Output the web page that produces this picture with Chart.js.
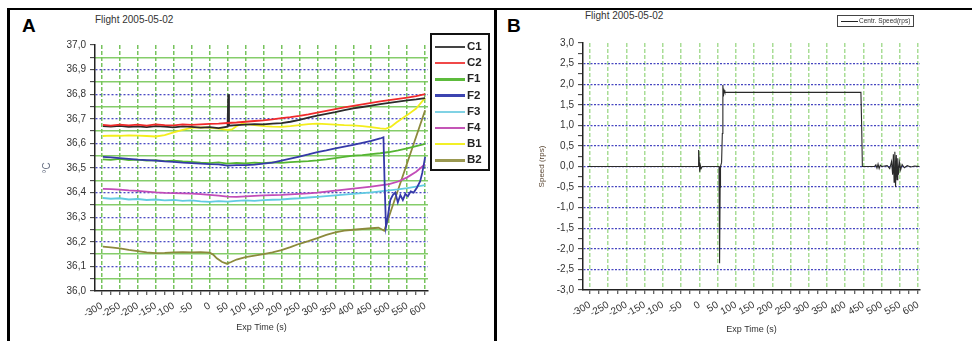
<!DOCTYPE html>
<html>
<head>
<meta charset="utf-8">
<script src="https://cdn.jsdelivr.net/npm/chart.js@4/dist/chart.umd.min.js"></script>
<style>
  body { margin: 0; width: 972px; height: 341px; background: #fff; position: relative; overflow: hidden;
         font-family: "Liberation Sans", Arial, sans-serif; }
  .abs { position: absolute; }
  .panel-letter { font-weight: bold; font-size: 19px; line-height: 19px; color: #000; }
  .flight { font-size: 10px; line-height: 10px; color: #333; white-space: nowrap; }
  #legendA { left: 430px; top: 33px; width: 56px; height: 134px; border: 2px solid #111; }
  #legendA .item { position: absolute; left: 3px; height: 16px; line-height: 16px; white-space: nowrap;
                   font-weight: bold; font-size: 11.5px; color: #222; }
  #legendA .swatch { display: inline-block; width: 30px; height: 2.5px; vertical-align: middle; margin-right: 2px; }
  #legendB { left: 837px; top: 15px; width: 75px; height: 10px; border: 1px solid #444; font-size: 6.5px;
             line-height: 10px; color: #333; white-space: nowrap; }
  #legendB .swatch { display: inline-block; width: 17px; height: 1px; background: #222; vertical-align: middle;
                     margin: 0 1px 0 3px; }
</style>
</head>
<body>
<div class="abs" style="left:7px;top:8px;width:970px;height:340px;border-top:2px solid #000;border-left:3px solid #000;"></div>
<div class="abs" style="left:494px;top:8px;width:3px;height:340px;background:#000;"></div>

<div class="abs panel-letter" style="left:22px;top:16px;">A</div>
<div class="abs flight" style="left:95px;top:15px;">Flight 2005-05-02</div>
<div class="abs panel-letter" style="left:507px;top:16px;">B</div>
<div class="abs flight" style="left:585px;top:11px;">Flight 2005-05-02</div>

<canvas id="chartA" class="abs" width="484" height="331" style="left:10px;top:10px;"></canvas>
<canvas id="chartB" class="abs" width="475" height="331" style="left:497px;top:10px;"></canvas>

<div id="legendA" class="abs"></div>
<div id="legendB" class="abs"><span class="swatch"></span>Centr. Speed(rps)</div>

<script>
// eje x comun (s)
const timeTicks = [-300, -275, -250, -225, -200, -175, -150, -125, -100, -75, -50, -25, 0, 25, 50, 75, 100,
  125, 150, 175, 200, 225, 250, 275, 300, 325, 350, 375, 400, 425, 450, 475, 500, 525, 550, 575, 600];
const tempTicks = [36.0, 36.05, 36.1, 36.15, 36.2, 36.25, 36.3, 36.35, 36.4, 36.45, 36.5,
  36.55, 36.6, 36.65, 36.7, 36.75, 36.8, 36.85, 36.9, 36.95, 37.0];
const speedTicks = [-3.0, -2.75, -2.5, -2.25, -2.0, -1.75, -1.5, -1.25, -1.0, -0.75, -0.5, -0.25, 0,
  0.25, 0.5, 0.75, 1.0, 1.25, 1.5, 1.75, 2.0, 2.25, 2.5, 2.75, 3.0];

const seriesNames = ['C1', 'C2', 'F1', 'F2', 'F3', 'F4', 'B1', 'B2'];
const seriesColors = ['#2b2b2b', '#f02a2a', '#55b532', '#3539a8', '#62cbe2', '#c24cb8', '#f4ee1c', '#8c8a3c'];
const legendColors = ['#444444', '#f04848', '#5dbb3c', '#3c44b0', '#80d2e4', '#c455b6', '#f2f026', '#9a9850'];

// temperaturas (°C)
const c1 = [[-297,36.670],[-275,36.668],[-250,36.671],[-225,36.667],[-200,36.669],[-175,36.666],[-150,36.670],
  [-125,36.668],[-100,36.665],[-75,36.669],[-50,36.667],[-25,36.664],[0,36.666],[25,36.662],[50,36.668],
  [52,36.800],[54,36.672],[75,36.674],[100,36.676],[125,36.678],[150,36.677],[175,36.680],[200,36.682],
  [225,36.688],[250,36.696],[275,36.705],[300,36.713],[325,36.720],[350,36.727],[375,36.735],[400,36.742],
  [425,36.748],[450,36.754],[475,36.760],[500,36.765],[525,36.770],[550,36.775],[575,36.779],[600,36.784]];
const c2 = [[-297,36.675],[-275,36.672],[-250,36.676],[-225,36.673],[-200,36.676],[-175,36.672],[-150,36.677],
  [-125,36.674],[-100,36.673],[-75,36.677],[-50,36.675],[-25,36.677],[0,36.679],[25,36.680],[50,36.683],
  [75,36.685],[100,36.688],[125,36.691],[150,36.694],[175,36.698],[200,36.703],[225,36.707],[250,36.712],
  [275,36.718],[300,36.725],[325,36.732],[350,36.739],[375,36.746],[400,36.753],[425,36.759],[450,36.765],
  [475,36.771],[500,36.776],[525,36.781],[550,36.786],[575,36.792],[600,36.800]];
const f1 = [[-297,36.535],[-275,36.533],[-250,36.537],[-225,36.532],[-200,36.534],[-175,36.530],[-150,36.532],
  [-125,36.528],[-100,36.530],[-75,36.527],[-50,36.525],[-25,36.522],[0,36.520],[25,36.523],[50,36.518],
  [75,36.521],[100,36.519],[125,36.522],[150,36.520],[175,36.523],[200,36.521],[225,36.524],[250,36.526],
  [275,36.528],[300,36.531],[325,36.535],[350,36.540],[375,36.545],[400,36.550],[425,36.552],[450,36.556],
  [475,36.560],[500,36.565],[525,36.572],[550,36.580],[575,36.589],[600,36.598]];
const f2 = [[-297,36.545],[-275,36.543],[-250,36.540],[-225,36.537],[-200,36.534],[-175,36.532],[-150,36.530],
  [-125,36.527],[-100,36.525],[-75,36.522],[-50,36.520],[-25,36.518],[0,36.516],[25,36.515],[50,36.510],
  [75,36.512],[100,36.512],[125,36.514],[150,36.518],[175,36.522],[200,36.530],[225,36.538],[250,36.546],
  [275,36.555],[300,36.565],[325,36.572],[350,36.580],[375,36.587],[400,36.594],[425,36.602],[450,36.610],
  [475,36.620],[484,36.625],[487,36.450],[491,36.260],[496,36.300],[503,36.370],[510,36.390],[517,36.400],
  [524,36.360],[531,36.390],[538,36.370],[545,36.395],[552,36.385],[560,36.405],[568,36.400],[577,36.420],
  [586,36.445],[592,36.480],[597,36.520],[600,36.545]];
const f3 = [[-297,36.378],[-275,36.375],[-250,36.377],[-225,36.372],[-200,36.374],[-175,36.370],[-150,36.372],
  [-125,36.368],[-100,36.370],[-75,36.366],[-50,36.368],[-25,36.364],[0,36.362],[25,36.365],[50,36.363],
  [75,36.366],[100,36.368],[125,36.366],[150,36.369],[175,36.371],[200,36.372],[225,36.375],[250,36.377],
  [275,36.380],[300,36.383],[325,36.386],[350,36.389],[375,36.392],[400,36.395],[425,36.398],[450,36.401],
  [475,36.405],[500,36.409],[525,36.413],[550,36.418],[575,36.424],[600,36.430]];
const f4 = [[-297,36.415],[-275,36.414],[-250,36.412],[-225,36.409],[-200,36.407],[-175,36.404],[-150,36.401],
  [-125,36.399],[-100,36.398],[-75,36.397],[-50,36.396],[-25,36.394],[0,36.391],[25,36.388],[50,36.384],
  [75,36.383],[100,36.385],[125,36.387],[150,36.389],[175,36.390],[200,36.391],[225,36.393],[250,36.395],
  [275,36.397],[300,36.400],[325,36.404],[350,36.408],[375,36.412],[400,36.416],[425,36.420],[450,36.424],
  [475,36.429],[500,36.434],[525,36.445],[550,36.462],[575,36.485],[600,36.515]];
const b1 = [[-297,36.630],[-275,36.632],[-250,36.631],[-225,36.633],[-200,36.632],[-175,36.630],[-150,36.628],
  [-125,36.634],[-100,36.645],[-75,36.655],[-50,36.663],[-25,36.665],[0,36.664],[25,36.660],[50,36.655],
  [62,36.657],[75,36.670],[90,36.680],[100,36.678],[125,36.674],[150,36.670],[175,36.668],[200,36.667],
  [225,36.670],[250,36.674],[275,36.678],[300,36.680],[325,36.678],[350,36.676],[375,36.674],[400,36.673],
  [425,36.670],[450,36.666],[475,36.661],[490,36.659],[505,36.668],[520,36.685],[535,36.700],[550,36.715],
  [575,36.742],[600,36.785]];
const b2 = [[-297,36.180],[-275,36.177],[-250,36.173],[-225,36.167],[-200,36.162],[-175,36.157],[-150,36.154],
  [-125,36.155],[-100,36.157],[-75,36.158],[-50,36.157],[-25,36.158],[0,36.156],[10,36.148],[20,36.133],
  [35,36.118],[48,36.111],[60,36.118],[75,36.128],[100,36.138],[125,36.144],[150,36.150],[175,36.157],
  [200,36.166],[225,36.178],[250,36.192],[275,36.203],[300,36.215],[325,36.228],[350,36.238],[375,36.245],
  [400,36.249],[425,36.252],[450,36.255],[470,36.257],[480,36.250],[486,36.245],[600,36.735]];
const seriesData = [c1, c2, f1, f2, f3, f4, b1, b2];
const drawOrder = [2, 1, 5, 4, 7, 6, 3, 8];

// velocidad de la centrifuga (rps)
const centrSpeed = [[-305,0],[-3,0],[-2,0.4],[0,0.1],[1,-0.13],[3,0.02],[5,-0.05],[8,0],[54,0],[55.5,-2.35],
  [57,-0.5],[58,0],[61,0.1],[63,0.8],[64.5,1.98],[66,1.7],[68,1.85],[70,1.8],[443,1.8],[445,1.0],[447,0],
  [480,0],[484,0.04],[487,-0.04],[490,0.06],[493,-0.05],[496,0.03],[500,0],[515,0.02],[522,-0.05],[527,0.12],
  [530,-0.2],[532,0.3],[534,-0.38],[536,0.36],[538,-0.5],[540,0.28],[542,-0.32],[544,0.2],[546,-0.2],
  [549,0.1],[552,-0.08],[556,0.05],[562,-0.03],[570,0.02],[580,-0.01],[590,0.01],[603,0]];

Chart.defaults.font.family = '"Liberation Sans", Arial, sans-serif';
Chart.defaults.color = '#333';

function isMultiple(v, step) { return Math.abs(v / step - Math.round(v / step)) < 1e-6; }
function comma(v) { return v.toFixed(1).replace('.', ','); }

function timeAxis(min, max, height, gridColor) {
  return {
    type: 'linear', min: min, max: max,
    afterBuildTicks: s => { s.ticks = timeTicks.map(v => ({ value: v })); },
    afterFit: s => { s.height = height; },
    ticks: { autoSkip: false, minRotation: 30, maxRotation: 30, padding: 5, font: { size: 10 },
             callback: v => isMultiple(v, 50) ? String(v) : '' },
    grid: { color: c => isMultiple(c.tick.value, 50) ? gridColor : 'transparent', lineWidth: 1.5,
            tickColor: '#333', tickLength: 4, tickWidth: 1 },
    border: { display: true, color: '#222', width: 1.5, dash: [4, 2] },
    title: { display: true, text: 'Exp Time (s)', font: { size: 9 }, padding: 0 }
  };
}

window.addEventListener('DOMContentLoaded', function() {
  new Chart(document.getElementById('chartA'), {
    type: 'line',
    data: {
      datasets: seriesData.map((d, i) => ({
        label: seriesNames[i], data: d, borderColor: seriesColors[i], borderWidth: 1.8,
        pointRadius: 0, tension: 0, order: drawOrder[i]
      }))
    },
    options: {
      responsive: false, animation: false, devicePixelRatio: 1,
      layout: { padding: { left: 20, right: 66, top: 35, bottom: 8 } },
      plugins: { legend: { display: false }, tooltip: { enabled: false } },
      scales: {
        x: timeAxis(-319, 608, 42, 'rgba(95,185,65,0.85)'),
        y: {
          type: 'linear', min: 36, max: 37,
          afterBuildTicks: s => { s.ticks = tempTicks.map(v => ({ value: v })); },
          afterFit: s => { s.width = 65; },
          ticks: { autoSkip: false, padding: 4, font: { size: 10 },
                   callback: v => isMultiple(v, 0.1) ? comma(v) : '' },
          grid: { color: c => (isMultiple(c.tick.value, 0.1) && c.tick.value > 36.01 && c.tick.value < 36.99)
                    ? 'rgba(55,55,190,0.9)' : 'transparent',
                  lineWidth: 1.3, tickColor: '#333', tickLength: 5, tickWidth: 1 },
          border: { display: true, color: '#222', width: 1.5, dash: [2, 2] },
          title: { display: true, text: '°C', color: '#6a7285', font: { size: 10 }, padding: { top: 11, bottom: 0 } }
        },
        yMinor: {
          type: 'linear', position: 'right', min: 36, max: 37,
          afterBuildTicks: s => { s.ticks = tempTicks.map(v => ({ value: v })); },
          afterFit: s => { s.width = 0; },
          ticks: { display: false },
          grid: { color: c => isMultiple(c.tick.value, 0.1) ? 'transparent' : 'rgba(120,200,90,0.9)',
                  lineWidth: 1.5, drawTicks: false },
          border: { display: false }
        }
      }
    }
  });

  new Chart(document.getElementById('chartB'), {
    type: 'line',
    data: {
      datasets: [{ label: 'Centr. Speed(rps)', data: centrSpeed, borderColor: '#2a2a2a', borderWidth: 1.1,
                   pointRadius: 0, tension: 0 }]
    },
    options: {
      responsive: false, animation: false, devicePixelRatio: 1,
      layout: { padding: { left: 25, right: 52, top: 33, bottom: 6 } },
      plugins: { legend: { display: false }, tooltip: { enabled: false } },
      scales: {
        x: timeAxis(-319, 605, 45, 'rgba(140,210,115,0.75)'),
        y: {
          type: 'linear', min: -3, max: 3,
          afterBuildTicks: s => { s.ticks = speedTicks.map(v => ({ value: v })); },
          afterFit: s => { s.width = 61; },
          ticks: { autoSkip: false, padding: 4, font: { size: 10 },
                   callback: v => isMultiple(v, 0.5) ? comma(v) : '' },
          grid: { color: c => (isMultiple(c.tick.value, 0.5) && Math.abs(c.tick.value) < 2.9)
                    ? 'rgba(50,50,185,0.9)' : 'transparent',
                  lineWidth: 1.3, tickColor: '#333', tickLength: 5, tickWidth: 1 },
          border: { display: true, color: '#222', width: 1.5, dash: [2, 1.5] },
          title: { display: true, text: 'Speed (rps)', color: '#5a4632', font: { size: 8 }, padding: { top: 15, bottom: 0 } }
        }
      }
    }
  });

  // leyenda del panel A
  const legendA = document.getElementById('legendA');
  seriesNames.forEach((name, i) => {
    const item = document.createElement('div');
    item.className = 'item';
    item.style.top = (3 + i * 16.2) + 'px';
    item.innerHTML = '<span class="swatch" style="background:' + legendColors[i] + '"></span>' + name;
    legendA.appendChild(item);
  });
});
</script>
</body>
</html>
